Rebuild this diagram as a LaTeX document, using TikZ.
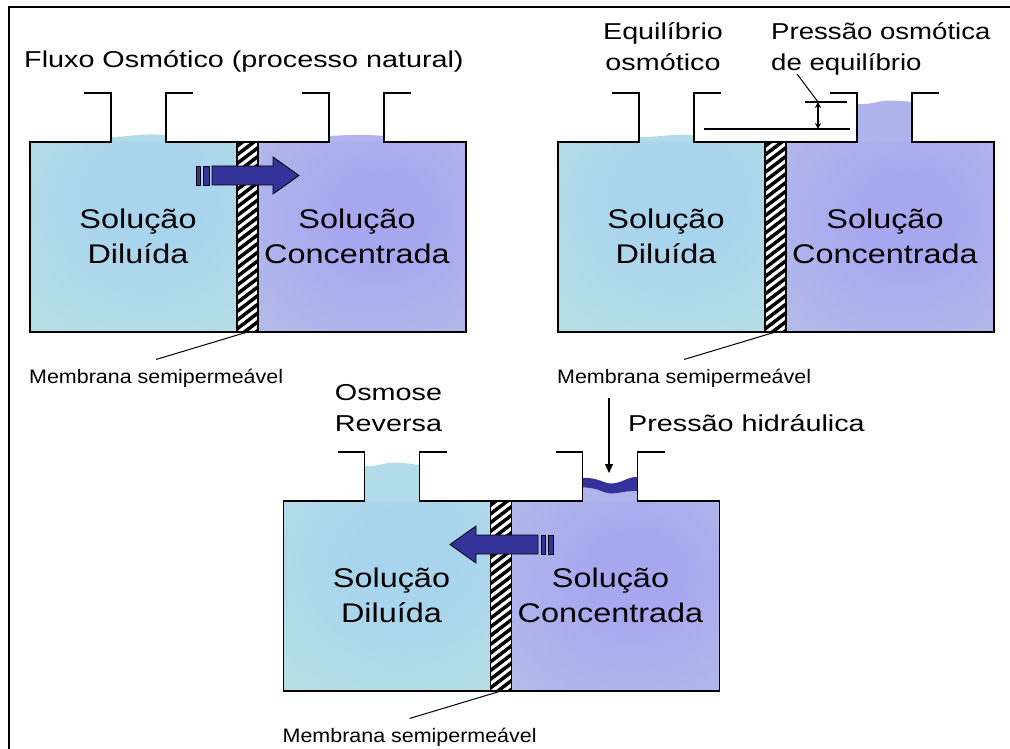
\documentclass[tikz,border=0pt]{standalone}
\usepackage{fontspec}
\setmainfont{Liberation Sans}
\usetikzlibrary{arrows.meta}
\definecolor{dilE}{HTML}{B8E0E2}
\definecolor{dilC}{HTML}{A8D4EE}
\definecolor{conE}{HTML}{B4C0E8}
\definecolor{conC}{HTML}{A8A8F0}
\definecolor{dilW}{HTML}{B2DCEA}
\definecolor{conW}{HTML}{B0B4EC}
\definecolor{flow}{HTML}{333399}
\pgfdeclareradialshading{dilshade}{\pgfpoint{5bp}{12bp}}{color(0bp)=(dilC); color(12bp)=(dilC); color(45bp)=(dilE); color(100bp)=(dilE)}
\pgfdeclareradialshading{conshade}{\pgfpoint{5bp}{6bp}}{color(0bp)=(conC); color(12bp)=(conC); color(45bp)=(conE); color(100bp)=(conE)}
\newcommand{\hsc}[2]{\scalebox{#1}[1]{#2}}
\tikzset{
  outline/.style={line width=1.6pt, black, line join=miter},
  titletext/.style={font=\fontsize{23}{31}\selectfont, inner sep=0pt},
  soltext/.style={font=\fontsize{27}{35}\selectfont, inner sep=0pt, align=center},
  memtext/.style={font=\fontsize{19.5}{22}\selectfont, inner sep=0pt},
  flowarrow/.style={fill=flow, draw=black, line width=0.8pt},
  pointer/.style={line width=1pt},
  thinline/.style={line width=1.2pt},
  membox/.style={draw, line width=1.2pt, minimum width=21pt, minimum height=190pt, inner sep=0pt, outer sep=0pt},
}
\newcommand{\drawtank}[1]{%
  \shade[shading=dilshade] (30,142) rectangle (237,332);
  \shade[shading=conshade] (258,142) rectangle (466,332);
  \begin{scope}
    \clip (237,142) rectangle (258,332);
    \fill[white] (237,142) rectangle (258,332);
    \foreach \k in {-3,...,26} \draw[line width=3.5pt] (232,150+\k*8.7) -- ++(31,-23.6);
  \end{scope}
  \node[membox] (#1mem) at (247.5,237) {};
  \draw[outline] (84,93) -- (111,93) -- (111,142) -- (30,142) -- (30,332) -- (466,332) -- (466,142) -- (384,142) -- (384,93) -- (411,93);
  \draw[outline] (193,93) -- (166,93) -- (166,142) -- (329,142) -- (329,93) -- (302,93);
  \node[soltext, anchor=base] (#1dil) at (138,263) {\hsc{1.2}{Solução}\\\hsc{1.2}{Diluída}};
  \node[soltext, anchor=base] (#1con) at (357,263) {\hsc{1.2}{Solução}\\\hsc{1.2}{Concentrada}};
  \node[memtext, anchor=base west] (#1lab) at (29,383) {\hsc{1.1}{Membrana semipermeável}};
  \draw[pointer] (#1mem.south) -- ([yshift=9pt]#1lab.north);
}
\begin{document}
\begin{tikzpicture}[x=1pt, y=-1pt]
\useasboundingbox (0,0) rectangle (1010,749);
\fill[white] (0,0) rectangle (1010,749);
% frame
\draw[line width=2.5pt] (9,749) -- (9,7) -- (1010,7);

% ---------- neck water ----------
% panel 1
\fill[dilW] (111,142.5) -- (111,137) .. controls (130,137) and (138,133) .. (166,135) -- (166,142.5) -- cycle;
\fill[conW] (329,142.5) -- (329,136) .. controls (350,135) and (360,134) .. (384,136) -- (384,142.5) -- cycle;
% panel 2
\fill[dilW] (639,142.5) -- (639,137) .. controls (660,137) and (670,134) .. (694,135) -- (694,142.5) -- cycle;
\fill[conW] (857,142.5) -- (857,104) .. controls (872,105) and (880,100) .. (890,100.5) .. controls (900,101) and (905,101) .. (912,102) -- (912,142.5) -- cycle;
% panel 3
\fill[dilW] (364.5,501.5) -- (364.5,466) .. controls (378,467) and (385,462) .. (395,462.5) .. controls (405,463) and (412,464) .. (419.5,465) -- (419.5,501.5) -- cycle;
\fill[conW] (582.5,501.5) -- (582.5,485) -- (637.5,485) -- (637.5,501.5) -- cycle;
\fill[flow] (582.5,478) .. controls (598,477) and (604,484) .. (612,483.5) .. controls (622,483) and (628,476.5) .. (637.5,477) -- (637.5,491) .. controls (628,490.5) and (620,493) .. (612,493.5) .. controls (604,494) and (598,487) .. (582.5,487.5) -- cycle;

% ---------- tanks ----------
\begin{scope}[shift={(0,0)}]
  \drawtank{a}
\end{scope}
\begin{scope}[shift={(528,0)}]
  \drawtank{b}
\end{scope}
\begin{scope}[shift={(253.5,359)}]
  \drawtank{c}
\end{scope}

% ---------- flow arrows ----------
\draw[flowarrow] (212,166) -- (273,166) -- (273,157) -- (299,175.5) -- (273,194) -- (273,185) -- (212,185) -- cycle;
\draw[flowarrow] (196,166) rectangle (200.5,185);
\draw[flowarrow] (203,166) rectangle (209,185);

\draw[flowarrow] (538,535) -- (476,535) -- (476,526) -- (450,544.5) -- (476,563) -- (476,554) -- (538,554) -- cycle;
\draw[flowarrow] (541,535) rectangle (545.5,554);
\draw[flowarrow] (548,535) rectangle (553,554);

% ---------- titles ----------
\node[titletext, anchor=base west] (t1) at (24,68) {\hsc{1.25}{Fluxo Osmótico (processo natural)}};
\node[titletext, anchor=base, align=center] (t2a) at (663,71) {\hsc{1.25}{Equilíbrio}\\\hsc{1.25}{osmótico}};
\node[titletext, anchor=base west, align=left] (t2b) at (771,71) {\hsc{1.2}{Pressão osmótica}\\\hsc{1.2}{de equilíbrio}};
\node[titletext, anchor=base, align=center] (t3a) at (388.5,431) {\hsc{1.25}{Osmose}\\\hsc{1.25}{Reversa}};
\node[titletext, anchor=base west] (t3b) at (628,431) {\hsc{1.25}{Pressão hidráulica}};

% ---------- equilibrium pressure marks ----------
\coordinate (eqTL) at (805,102);
\coordinate (eqTR) at (847,102);
\coordinate (eqBL) at (704,129);
\coordinate (eqBR) at (850,129);
\coordinate (eqA) at (818,102);
\coordinate (eqB) at (818,129);
\coordinate (eqP) at (797,74);
\draw[thinline] (eqTL) -- (eqTR);
\draw[thinline] (eqBL) -- (eqBR);
\draw[thinline, {Stealth[length=6pt,width=6pt]}-{Stealth[length=6pt,width=6pt]}] (eqA) -- (eqB);
\draw[pointer] (eqP) -- (eqA);

% ---------- hydraulic pressure arrow ----------
\coordinate (hpTop) at (609,398);
\coordinate (hpTip) at (609,473);
\draw[thinline, -{Triangle[length=9pt,width=8pt]}] (hpTop) -- (hpTip);
\end{tikzpicture}
\end{document}
